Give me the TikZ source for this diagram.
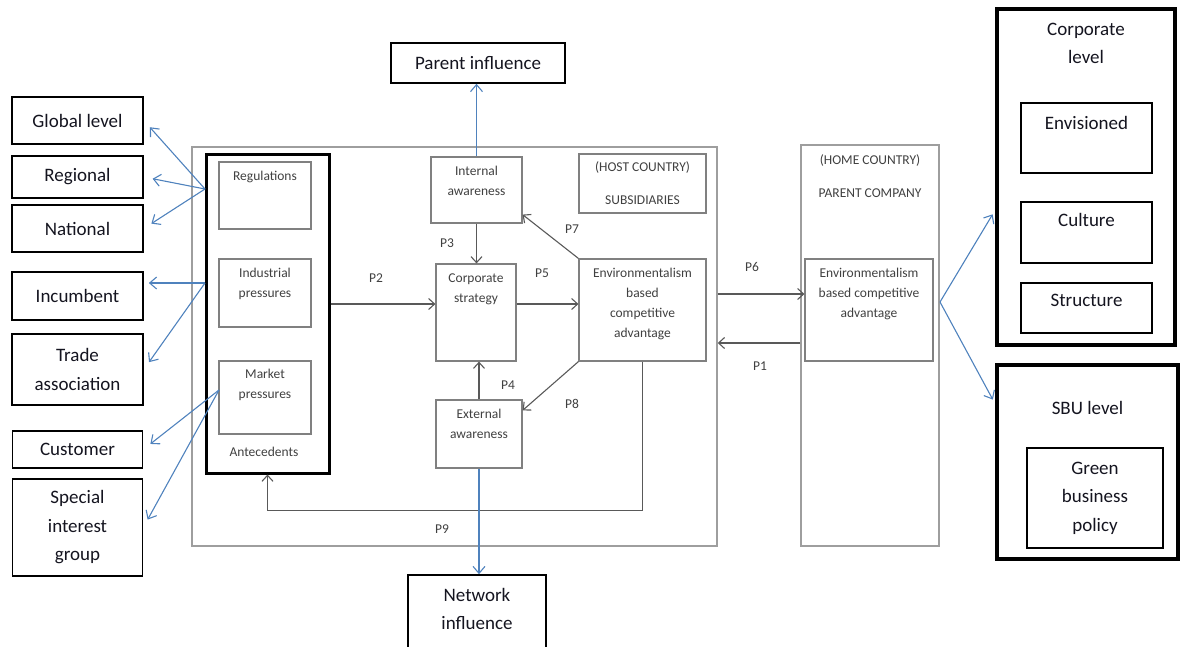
\documentclass[tikz,border=0pt]{standalone}
\usepackage{fontspec}
\setmainfont{Carlito}
\usetikzlibrary{arrows.meta}

\begin{document}
\begin{tikzpicture}[x=1pt,y=-1pt,
    lbox/.style={draw=black,line width=1.6pt,inner sep=0pt,align=center,
      text=kInk,font=\fontsize{19}{28.5}\selectfont},
    ltext/.style={inner sep=0pt,align=center,text=kInk,
      font=\fontsize{19}{28.5}\selectfont},
    heavybox/.style={draw=black,line width=3.6pt,inner sep=0pt},
    sbox/.style={draw=kGrey,line width=1.2pt,inner sep=0pt,align=center,
      text=kText,font=\fontsize{13.5}{20}\selectfont},
    stext/.style={inner sep=0pt,align=center,text=kText,
      font=\fontsize{13.5}{20}\selectfont},
    garrow/.style={draw=kDark,line width=1.1pt,
      -{Straight Barb[length=6pt,width=11pt]}},
    barrow/.style={draw=kBlue,line width=1.1pt,
      -{Straight Barb[length=7pt,width=12pt]}}]
  \definecolor{kGrey}{rgb}{0.50,0.50,0.50}
  \definecolor{kLight}{rgb}{0.62,0.62,0.62}
  \definecolor{kDark}{rgb}{0.35,0.35,0.35}
  \definecolor{kText}{rgb}{0.25,0.25,0.25}
  \definecolor{kInk}{rgb}{0.08,0.08,0.12}
  \definecolor{kBlue}{rgb}{0.31,0.51,0.74}

  \useasboundingbox (0,0) rectangle (1180,646);
  \clip (0,0) rectangle (1180,646);

  % outer frames
  \node[draw=kLight,line width=1.5pt,minimum width=525,minimum height=399] (sub) at (454.5,346.5) {};
  \node[draw=kLight,line width=1.5pt,minimum width=138,minimum height=401] (parent) at (870,345.5) {};
  \node[heavybox,line width=3pt,minimum width=123,minimum height=319] (ante) at (267.5,313.5) {};

  % left side
  \foreach \name/\y/\w/\h/\txt in {glob/120.5/131/47/Global level,
                                  regl/177/131/42/Regional,
                                  natl/228.5/131/47/National,
                                  incb/296/131/48/Incumbent,
                                  trad/369.5/131/71/{Trade\\association},
                                  cust/449.5/130/37/Customer,
                                  spec/527.5/130/97/{Special\\interest\\group}}
  {
    \node[lbox,minimum width=\w,minimum height=\h] (\name) at (77.5,\y) {\txt};
  }

  % antecedents
  \node[sbox,minimum width=92,minimum height=67] (reg) at (265,195.5) {};
  \node[sbox,minimum width=92,minimum height=68] (ind) at (265,293) {};
  \node[sbox,minimum width=92,minimum height=73] (mkt) at (265,397.5) {};
  \node[stext] (regt) at (265,177) {Regulations};
  \node[stext] (indt) at (265,283.5) {Industrial\\pressures};
  \node[stext] (mktt) at (265,384.5) {Market\\pressures};
  \node[stext] (antt) at (264,452) {Antecedents};

  % subsidiaries
  \node[sbox,minimum width=91,minimum height=66] (intl) at (476.5,190) {};
  \node[sbox,minimum width=80,minimum height=97] (corp) at (476,312.5) {};
  \node[sbox,minimum width=86,minimum height=68] (ext) at (479,434) {};
  \node[sbox,minimum width=127,minimum height=59] (host) at (642.5,183.5) {(HOST COUNTRY)\\[13pt]SUBSIDIARIES};
  \node[sbox,minimum width=127,minimum height=102] (env) at (642.5,310) {};
  \node[stext] (intlt) at (476.5,181) {Internal\\awareness};
  \node[stext] (corpt) at (476,289) {Corporate\\strategy};
  \node[stext] (extt) at (479,424) {External\\awareness};
  \node[stext] (envt) at (642.5,304) {Environmentalism\\based\\competitive\\advantage};

  % parent company
  \node[stext] (parentt) at (870,176.5) {(HOME COUNTRY)\\[13pt]PARENT COMPANY};
  \node[sbox,minimum width=128,minimum height=102] (penv) at (869,310) {};
  \node[stext] (penvt) at (869,293.5) {Environmentalism\\based competitive\\advantage};

  % influences
  \node[lbox,minimum width=174,minimum height=40] (pinf) at (478,63) {Parent influence};
  \node[lbox,minimum width=138,minimum height=85] (netw) at (477,617.5) {};
  \node[ltext] (netwt) at (477,609) {Network\\influence};

  % right side
  \node[heavybox,minimum width=178,minimum height=336] (corplvl) at (1086,177) {};
  \node[ltext] (corplvlt) at (1086,43.5) {Corporate\\level};
  \node[lbox,line width=1.3pt,minimum width=131,minimum height=70] (envi) at (1086.5,138) {};
  \node[lbox,line width=1.3pt,minimum width=131,minimum height=61] (cult) at (1086.5,232.5) {};
  \node[lbox,line width=1.3pt,minimum width=131,minimum height=50] (strc) at (1086.5,308) {};
  \node[ltext] (envit) at (1086.5,123) {Envisioned};
  \node[ltext] (cultt) at (1086.5,220) {Culture};
  \node[ltext] (strct) at (1086.5,300) {Structure};
  \node[heavybox,minimum width=181,minimum height=194] (sbu) at (1087.5,462) {};
  \node[ltext] (sbut) at (1087.5,408) {SBU level};
  \node[lbox,line width=1.3pt,minimum width=136,minimum height=100] (green) at (1095,498) {Green\\business\\policy};

  % P labels
  \foreach \name/\x/\y in {P1/760/366,P2/376/278,P3/447/243,P4/508/385,P5/542/273,
                          P6/752/267,P7/572/229,P8/572/404,P9/442/529}
  {
    \node[stext] (\name) at (\x,\y) {\name};
  }

  % links inside
  \coordinate (lvl) at (0,304);
  \coordinate (p6y) at (0,294);
  \coordinate (p1y) at (0,343);
  \draw[garrow] (ante.east |- lvl) -- (corp.west |- lvl);
  \draw[garrow] (corp.east |- lvl) -- (env.west |- lvl);
  \draw[garrow] (intl.south) -- (intl.south |- corp.north);
  \draw[garrow] (ext.north) -- (ext.north |- corp.south);
  \draw[garrow] (env.north west) -- ([yshift=9pt]intl.south east);
  \draw[garrow] (env.south west) -- ([yshift=-11pt]ext.north east);
  \draw[garrow] (env.south) -- ++(0,149) -| (ante.south);
  \draw[garrow] (sub.east |- p6y) -- (penv.west |- p6y);
  \draw[garrow] (parent.west |- p1y) -- (sub.east |- p1y);

  % influence links
  \coordinate (regsrc) at (205,189);
  \coordinate (indsrc) at (205,283);
  \coordinate (mktsrc) at (219,390);
  \coordinate (pensrc) at (940,302);
  \foreach \t in {glob,regl,natl}
    \draw[barrow,shorten >=9pt] (regsrc) -- (\t.east);
  \draw[barrow,shorten >=5pt] (indsrc) -- (incb.east |- indsrc);
  \draw[barrow,shorten >=9pt] (indsrc) -- (trad.east);
  \draw[barrow,shorten >=9pt] (mktsrc) -- (cust.east);
  \draw[barrow,shorten >=9pt] (mktsrc) -- (spec.east);
  \draw[barrow] (intl.north) -- (intl.north |- pinf.south);
  \draw[barrow] (ext.south) -- (ext.south |- netw.north);
  \draw[barrow,shorten >=5pt] (pensrc) -- ([yshift=-33pt]corplvl.west);
  \draw[barrow,shorten >=5pt] (pensrc) -- ([yshift=58pt]sbu.west);
\end{tikzpicture}
\end{document}
